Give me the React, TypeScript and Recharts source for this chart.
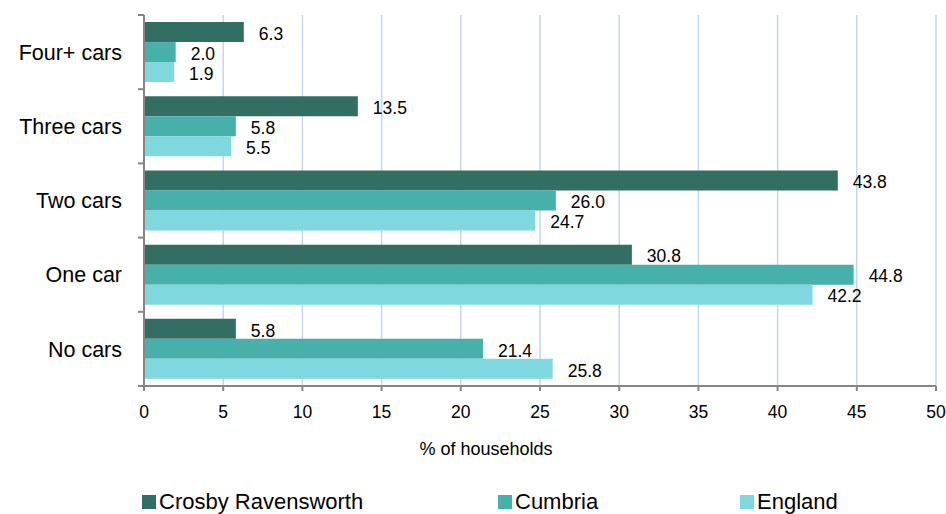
import React from 'react';
import { BarChart, Bar, XAxis, YAxis, CartesianGrid, Legend, LabelList, Text } from 'recharts';

const categories = ['Four+ cars', 'Three cars', 'Two cars', 'One car', 'No cars'];
const crosby = [6.3, 13.5, 43.8, 30.8, 5.8];
const cumbria = [2.0, 5.8, 26.0, 44.8, 21.4];
const england = [1.9, 5.5, 24.7, 42.2, 25.8];
const xTicks = [0, 5, 10, 15, 20, 25, 30, 35, 40, 45, 50];
const seriesNames = ['Crosby Ravensworth', 'Cumbria', 'England'];
const colors = ['#336E62', '#48B0AA', '#7FD8DE'];

const data = categories.map((c, i) => ({
  cat: c,
  crosby: crosby[i],
  cumbria: cumbria[i],
  england: england[i],
}));

const FONT = '"Liberation Sans", Arial, sans-serif';
const AXIS = '#868686';

const CategoryTick = (props: any) => {
  const { x, y, payload, index, visibleTicksCount } = props;
  const off = payload && typeof payload.offset === 'number' ? payload.offset : 37;
  const lineX1 = x + 16;
  const lineX2 = x + 22;
  return (
    <g>
      <Text x={x} y={y} textAnchor="end" verticalAnchor="middle" fontSize={21.5} fill="#000" fontFamily={FONT}>
        {payload.value}
      </Text>
      <line x1={lineX1} x2={lineX2} y1={y - off} y2={y - off} stroke={AXIS} strokeWidth={2} />
      {index === visibleTicksCount - 1 ? (
        <line x1={lineX1} x2={lineX2} y1={y + off} y2={y + off} stroke={AXIS} strokeWidth={2} />
      ) : null}
    </g>
  );
};

const legendLefts = [142, 498, 740];

const LegendContent = (props: any) => {
  const payload = props.payload || [];
  return (
    <div style={{ position: 'relative', width: 946, height: 24 }}>
      {payload.map((p: any, i: number) => (
        <div
          key={i}
          style={{
            position: 'absolute',
            left: legendLefts[i],
            top: 0,
            display: 'flex',
            alignItems: 'center',
            height: 24,
            whiteSpace: 'nowrap',
          }}
        >
          <span style={{ display: 'inline-block', width: 14, height: 14, background: p.color, marginRight: 3 }} />
          <span style={{ fontSize: 22, fontFamily: FONT, color: '#000', lineHeight: '24px' }}>{p.value}</span>
        </div>
      ))}
    </div>
  );
};

const fmt = (v: any) => Number(v).toFixed(1);

export default function App() {
  const keys = ['crosby', 'cumbria', 'england'];
  return (
    <div style={{ position: 'absolute', left: 0, top: 0, background: '#fff' }}>
      <BarChart
        width={946}
        height={514}
        data={data}
        layout="vertical"
        margin={{ top: 15, right: 10, left: 0, bottom: 34 }}
        barCategoryGap="9.5%"
        barGap={0}
      >
        <CartesianGrid horizontal={false} stroke="#C5D6EA" strokeWidth={1.5} />
        <XAxis
          type="number"
          domain={[0, 50]}
          ticks={xTicks}
          interval={0}
          height={70}
          tickSize={5}
          tickMargin={15}
          stroke={AXIS}
          strokeWidth={2}
          tick={{ fill: '#000', fontSize: 17.5, fontFamily: FONT }}
          label={{
            value: '% of households',
            position: 'insideTop',
            offset: 56,
            dx: -54,
            fill: '#000',
            fontSize: 18,
            fontFamily: FONT,
          }}
        />
        <YAxis
          type="category"
          dataKey="cat"
          width={144}
          tickLine={false}
          tickSize={6}
          tickMargin={16}
          stroke={AXIS}
          strokeWidth={2}
          interval={0}
          tick={<CategoryTick />}
        />
        <Legend
          verticalAlign="bottom"
          content={<LegendContent />}
          wrapperStyle={{ top: 490, left: 0, width: 946, height: 24 }}
        />
        {keys.map((k, i) => (
          <Bar key={k} dataKey={k} name={seriesNames[i]} fill={colors[i]} isAnimationActive={false}>
            <LabelList
              dataKey={k}
              position="right"
              offset={15}
              formatter={fmt}
              fill="#000"
              fontSize={17.5}
              fontFamily={FONT}
              dy={1.5}
            />
          </Bar>
        ))}
      </BarChart>
    </div>
  );
}
